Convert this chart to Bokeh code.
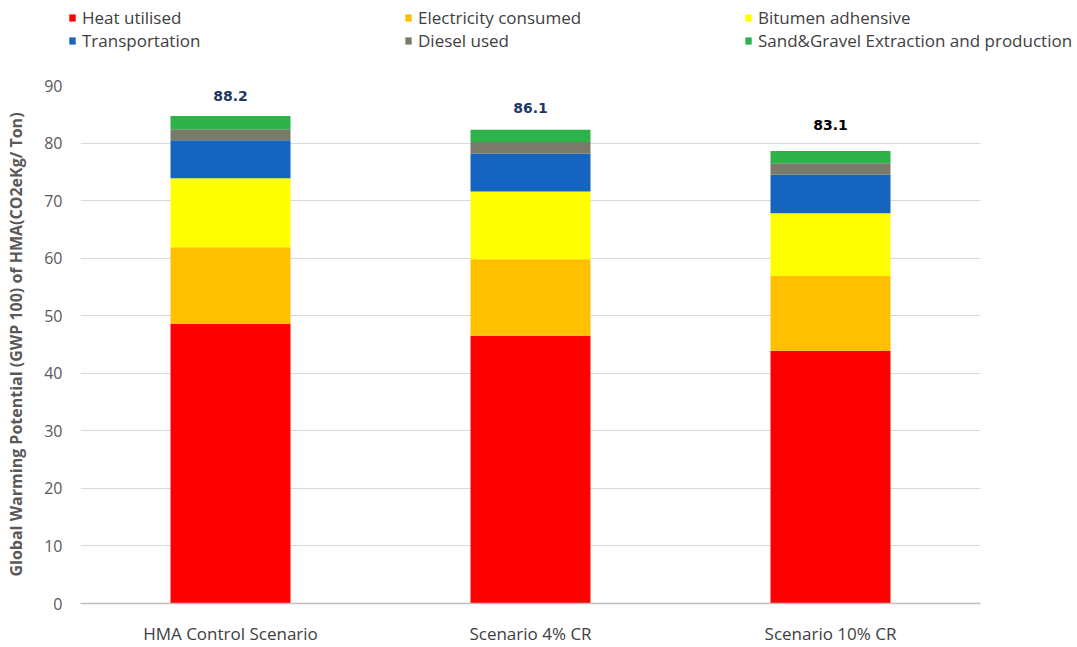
from bokeh.plotting import figure
from bokeh.models import ColumnDataSource, Legend, LegendItem, FixedTicker, FactorRange, Range1d
from bokeh.core.properties import value
from bokeh.embed import file_html
from bokeh.resources import INLINE

# Scenarios and their stacked contributions (kg CO2e per ton of HMA)
scenarios = ["HMA Control Scenario", "Scenario 4% CR", "Scenario 10% CR"]
heat_utilised = [48.6, 46.5, 43.9]
electricity_consumed = [13.3, 13.3, 13.0]
bitumen_adhesive = [12.0, 11.8, 10.9]
transportation = [6.6, 6.6, 6.7]
diesel_used = [1.9, 2.0, 2.0]
sand_gravel = [2.3, 2.1, 2.1]

# Reported totals shown above each bar
totals = [88.2, 86.1, 83.1]
total_colors = ["#1f3864", "#1f3864", "#000000"]

y_ticks = [0, 10, 20, 30, 40, 50, 60, 70, 80, 90]

series = ["heat", "elec", "bitumen", "transport", "diesel", "sand"]
series_labels = ["Heat utilised", "Electricity consumed", "Bitumen adhensive",
                 "Transportation", "Diesel used", "Sand&Gravel Extraction and production"]
colors = ["#ff0000", "#ffc000", "#ffff00", "#1565c0", "#7a7a6a", "#2eb24a"]

source = ColumnDataSource(dict(
    cat=scenarios,
    heat=heat_utilised,
    elec=electricity_consumed,
    bitumen=bitumen_adhesive,
    transport=transportation,
    diesel=diesel_used,
    sand=sand_gravel,
))

FONT = "Open Sans"
GREY = "#595959"
DARK = "#404040"
W = 1077
LEG_H = 55

# ---- legend strip (its own root so its frame spans the full width) ----
leg_fig = figure(width=W, height=LEG_H,
                 x_range=FactorRange(*scenarios), y_range=Range1d(500, 501),
                 x_axis_type=None, y_axis_type=None,
                 output_backend="svg", toolbar_location=None,
                 min_border_left=0, min_border_right=0, min_border_top=0, min_border_bottom=0)
leg_fig.outline_line_color = None
leg_fig.xgrid.grid_line_color = None
leg_fig.ygrid.grid_line_color = None
leg_fig.border_fill_color = "white"
# same stacks, kept out of view here; they only supply the legend swatches
swatches = leg_fig.vbar_stack(series, x="cat", width=0.4, source=source,
                              color=colors, line_color=None)
by_name = dict(zip(series, swatches))
label_of = dict(zip(series, series_labels))

# one entry per legend so each sits at its own column / row position
slots = {
    "heat": (68, 26), "elec": (404, 26), "bitumen": (744, 26),
    "transport": (68, 3), "diesel": (404, 3), "sand": (744, 3),
}
for key, loc in slots.items():
    leg = Legend(
        items=[LegendItem(label=label_of[key], renderers=[by_name[key]])],
        location=loc, orientation="vertical",
        border_line_color=None, background_fill_alpha=0,
        padding=0, margin=0, spacing=0,
        glyph_width=8, glyph_height=9, label_standoff=6, label_height=19,
        label_text_font=FONT, label_text_font_size="17px", label_text_color=DARK,
    )
    leg_fig.add_layout(leg, "center")

# ---- main chart ----
p = figure(
    width=W, height=647 - LEG_H,
    x_range=FactorRange(*scenarios, range_padding=0),
    y_range=Range1d(0, 90),
    output_backend="svg", toolbar_location=None,
    min_border_left=80, min_border_right=97, min_border_top=85 - LEG_H, min_border_bottom=35,
)
p.outline_line_color = None
p.background_fill_color = "white"
p.border_fill_color = "white"

p.vbar_stack(series, x="cat", width=0.4, source=source, color=colors, line_color=None)

# Totals above the stacks
lab_src = ColumnDataSource(dict(
    cat=scenarios, y=totals, text=[f"{t:.1f}" for t in totals], color=total_colors))
p.text(x="cat", y="y", text="text", source=lab_src, text_color="color",
       text_font=value("DejaVu Sans"), text_font_style="bold",
       text_font_size="14px", text_align="center", text_baseline="middle")

p.yaxis.ticker = FixedTicker(ticks=y_ticks)
p.yaxis.axis_line_color = None
p.yaxis.major_tick_line_color = None
p.yaxis.minor_tick_line_color = None
p.yaxis.major_label_text_font = FONT
p.yaxis.major_label_text_font_size = "16px"
p.yaxis.major_label_text_color = GREY
p.yaxis.major_label_standoff = 12
p.yaxis.axis_label = "Global Warming Potential (GWP 100) of HMA(CO2eKg/ Ton)"
p.yaxis.axis_label_text_font = FONT
p.yaxis.axis_label_text_font_size = "16px"
p.yaxis.axis_label_text_font_style = "bold"
p.yaxis.axis_label_text_color = GREY
p.yaxis.axis_label_standoff = 14

p.xaxis.axis_line_color = "#bfbfbf"
p.xaxis.axis_line_width = 1.5
p.xaxis.major_tick_line_color = None
p.xaxis.minor_tick_line_color = None
p.xaxis.major_label_text_font = FONT
p.xaxis.major_label_text_font_size = "17px"
p.xaxis.major_label_text_color = DARK
p.xaxis.major_label_standoff = 12

p.xgrid.grid_line_color = None
p.ygrid.grid_line_color = "#d9d9d9"
p.ygrid.grid_line_width = 1

open("out.html", "w").write(file_html([leg_fig, p], INLINE))
